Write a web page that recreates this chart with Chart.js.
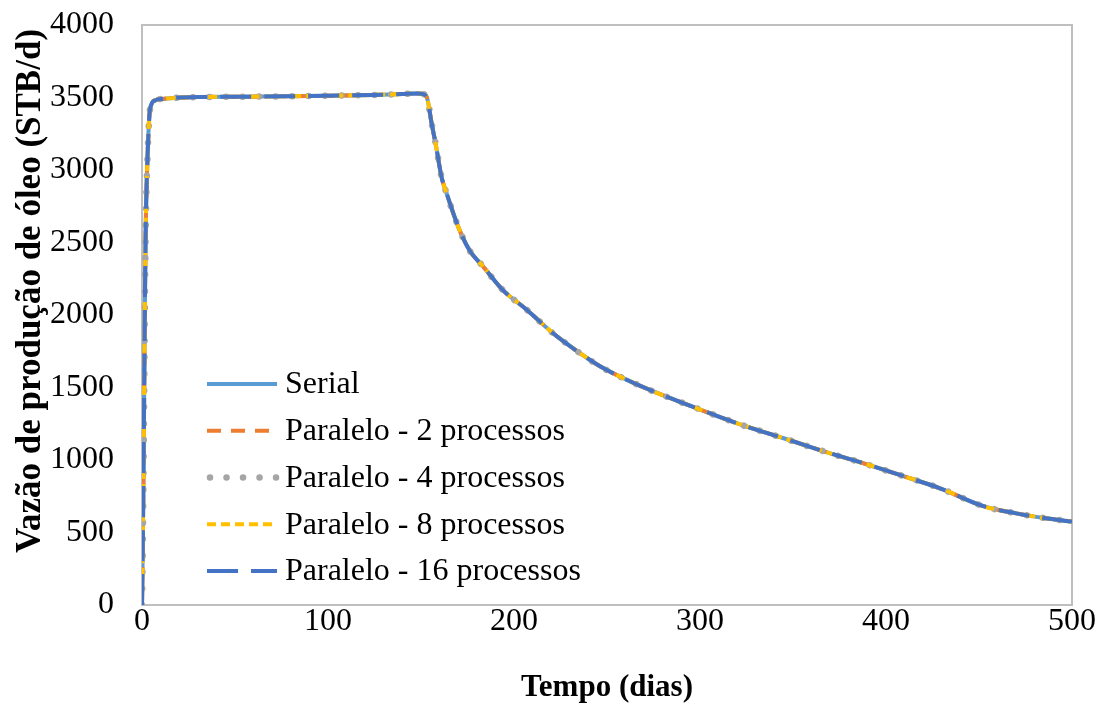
<!DOCTYPE html>
<html>
<head>
<meta charset="utf-8">
<script src="https://cdn.jsdelivr.net/npm/chart.js@4/dist/chart.umd.min.js"></script>
<style>
  html, body { margin: 0; padding: 0; background: #fff; }
  #wrap { width: 1105px; height: 704px; }
</style>
</head>
<body>
<div id="wrap"><canvas id="c" width="1105" height="704"></canvas></div>
<script>
// ---- Data ----
const tempo = [0, 0.5, 1, 1.5, 2, 3, 4, 5, 7, 11, 30, 50, 75, 100, 125, 140, 148, 150, 153, 155.7, 158, 161, 164, 170, 176, 183.5, 194, 207, 221, 234, 246, 257, 273, 296, 320, 345, 370, 388, 409, 429, 452, 470, 485, 500];
const vazaoSerial = [0, 500, 1200, 2000, 2600, 3100, 3380, 3450, 3480, 3490, 3503, 3505, 3508, 3512, 3518, 3524, 3528, 3526, 3506, 3322, 3172, 2954, 2830, 2609, 2448, 2333, 2172, 2035, 1874, 1750, 1648, 1575, 1483, 1368, 1253, 1150, 1046, 977, 890, 805, 683, 632, 600, 575];
const vazaoPar2 = vazaoSerial.slice();
const vazaoPar4 = vazaoSerial.slice();
const vazaoPar8 = vazaoSerial.slice();
const vazaoPar16 = vazaoSerial.slice();
const seriesLabels = ['Serial', 'Paralelo - 2 processos', 'Paralelo - 4 processos', 'Paralelo - 8 processos', 'Paralelo - 16 processos'];
const xTicks = [0, 100, 200, 300, 400, 500];
const yTicks = [0, 500, 1000, 1500, 2000, 2500, 3000, 3500, 4000];
const xTitle = 'Tempo (dias)';
const yTitle = 'Vazão de produção de óleo (STB/d)';

const FONT = '"Liberation Serif", "Times New Roman", serif';
const pts = (ys) => tempo.map((t, i) => ({ x: t, y: ys[i] }));

const styles = [
  { color: '#5B9BD5', dash: [], width: 4, cap: 'butt' },
  { color: '#ED7D31', dash: [14, 10], width: 4, cap: 'butt' },
  { color: '#A5A5A5', dash: [0.01, 16.5], width: 6.5, cap: 'round' },
  { color: '#FFC000', dash: [9, 5], width: 4, cap: 'butt' },
  { color: '#4472C4', dash: [31, 13], width: 4, cap: 'butt' }
];
const seriesValues = [vazaoSerial, vazaoPar2, vazaoPar4, vazaoPar8, vazaoPar16];

const datasets = seriesValues.map((v, i) => ({
  label: seriesLabels[i],
  data: pts(v),
  order: seriesValues.length - 1 - i,
  borderColor: styles[i].color,
  backgroundColor: styles[i].color,
  borderDash: styles[i].dash,
  borderWidth: styles[i].width,
  borderCapStyle: styles[i].cap,
  borderJoinStyle: 'round',
  pointRadius: 0,
  pointHoverRadius: 0,
  fill: false,
  cubicInterpolationMode: 'monotone'
}));

const frame = {
  id: 'frame',
  beforeDatasetsDraw(chart) {
    const a = chart.chartArea, ctx = chart.ctx;
    ctx.save();
    ctx.strokeStyle = '#BFBFBF';
    ctx.lineWidth = 2;
    ctx.strokeRect(a.left, a.top, a.right - a.left, a.bottom - a.top);
    ctx.restore();
  }
};

const yTitlePlugin = {
  id: 'yTitlePlugin',
  afterDraw(chart) {
    const ctx = chart.ctx;
    ctx.save();
    ctx.translate(31, 291);
    ctx.rotate(-Math.PI / 2);
    ctx.fillStyle = '#000';
    ctx.font = 'bold 35px ' + FONT;
    ctx.textAlign = 'center';
    ctx.textBaseline = 'middle';
    ctx.fillText(yTitle, 0, 0);
    ctx.restore();
  }
};

const customLegend = {
  id: 'customLegend',
  afterDraw(chart) {
    const ctx = chart.ctx;
    const x0 = 207, x1 = 277, tx = 285, y0 = 384, dy = 46.75;
    ctx.save();
    chart.data.datasets.forEach((ds, i) => {
      const y = y0 + i * dy;
      ctx.beginPath();
      ctx.strokeStyle = ds.borderColor;
      ctx.lineWidth = ds.borderWidth;
      ctx.lineCap = ds.borderCapStyle;
      ctx.setLineDash(ds.borderDash);
      ctx.moveTo(x0 + (ds.borderCapStyle === 'round' ? 3 : 0), y);
      ctx.lineTo(x1, y);
      ctx.stroke();
      ctx.setLineDash([]);
      ctx.fillStyle = '#000';
      ctx.font = '32px ' + FONT;
      ctx.textBaseline = 'middle';
      ctx.textAlign = 'left';
      ctx.fillText(ds.label, tx, y + 1);
    });
    ctx.restore();
  }
};

new Chart(document.getElementById('c'), {
  type: 'line',
  data: { datasets },
  options: {
    responsive: false,
    animation: false,
    events: [],
    layout: { padding: { left: 0, right: 33, top: 25, bottom: 0 } },
    plugins: { legend: { display: false }, tooltip: { enabled: false } },
    scales: {
      x: {
        type: 'linear',
        min: 0, max: 500,
        afterFit(s) { s.height = 99; },
        afterBuildTicks(s) { s.ticks = xTicks.map(v => ({ value: v })); },
        grid: { display: false, drawTicks: false },
        border: { display: false },
        ticks: { color: '#000', font: { family: FONT, size: 32 }, padding: -3, maxRotation: 0, callback: v => String(v) },
        title: { display: true, text: xTitle, color: '#000', font: { family: FONT, size: 31, weight: 'bold' }, padding: { top: 0, bottom: -3 } }
      },
      y: {
        min: 0, max: 4000,
        afterFit(s) { s.width = 142; s.paddingTop = 19; s.paddingBottom = 19; },
        afterBuildTicks(s) { s.ticks = yTicks.map(v => ({ value: v })); },
        grid: { display: false, drawTicks: false },
        border: { display: false },
        ticks: { color: '#000', font: { family: FONT, size: 32 }, padding: 28, callback: v => String(v) },
        title: { display: false }
      }
    }
  },
  plugins: [frame, customLegend, yTitlePlugin]
});
</script>
</body>
</html>
